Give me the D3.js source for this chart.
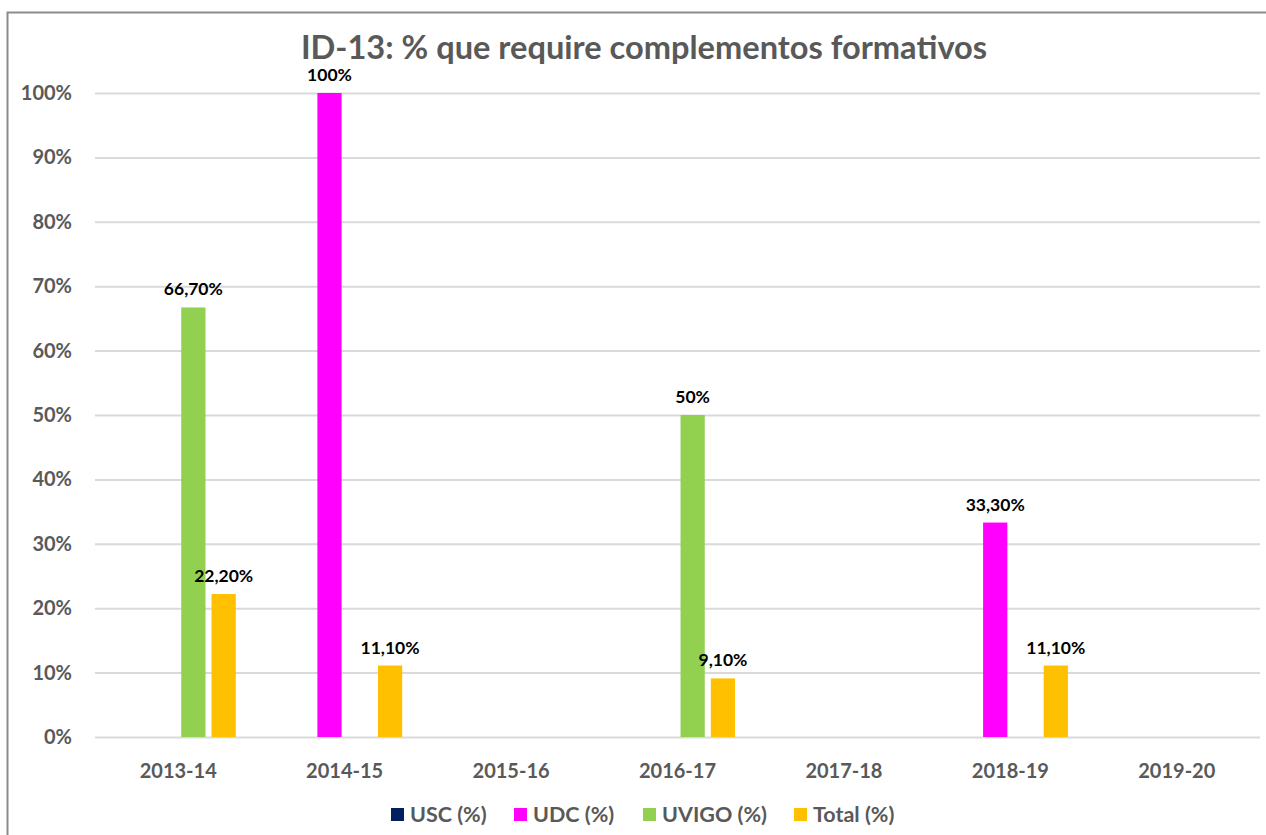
<!DOCTYPE html>
<html>
<head>
<meta charset="utf-8">
<script src="https://cdn.jsdelivr.net/npm/d3@7"></script>
<style>
  body { margin: 0; background: #fff; }
  svg { display: block; font-family: Lato, "Open Sans", sans-serif; }
</style>
</head>
<body>
<div id="chart"></div>
<script>
const years = ['2013-14', '2014-15', '2015-16', '2016-17', '2017-18', '2018-19', '2019-20'];
const seriesNames = ['USC (%)', 'UDC (%)', 'UVIGO (%)', 'Total (%)'];
const seriesColors = ['#002060', '#FF00FF', '#92D050', '#FFC000'];
const usc = [null, null, null, null, null, null, null];
const udc = [null, 100, null, null, null, 33.3, null];
const uvigo = [66.7, null, null, 50, null, null, null];
const total = [22.2, 11.1, null, 9.1, null, 11.1, null];
const labelsUdc = [null, '100%', null, null, null, '33,30%', null];
const labelsUvigo = ['66,70%', null, null, '50%', null, null, null];
const labelsTotal = ['22,20%', '11,10%', null, '9,10%', null, '11,10%', null];
const yTicks = [0, 10, 20, 30, 40, 50, 60, 70, 80, 90, 100];

const seriesValues = [usc, udc, uvigo, total];
const seriesLabels = [[], labelsUdc, labelsUvigo, labelsTotal];

const W = 1266, H = 835;
const svg = d3.select('#chart').append('svg')
  .attr('width', W)
  .attr('height', H);

// chart frame
svg.append('rect')
  .attr('x', 7.5).attr('y', 12.5)
  .attr('width', W + 20).attr('height', H + 20)
  .attr('fill', '#fff')
  .attr('stroke', '#8c8c8c')
  .attr('stroke-width', 2);

const x0 = d3.scaleBand()
  .domain(years)
  .range([95, 1260])
  .paddingInner(0.272)
  .paddingOuter(0.136);

const x1 = d3.scaleBand()
  .domain(d3.range(seriesNames.length))
  .range([0, x0.bandwidth()])
  .paddingInner(0.2)
  .paddingOuter(0.1);

const y = d3.scaleLinear()
  .domain([0, 100])
  .range([737, 93]);

// gridlines + y labels
const yAxis = svg.append('g')
  .attr('transform', 'translate(95,0)')
  .call(d3.axisLeft(y).tickValues(yTicks).tickSize(-(1260 - 95)).tickFormat(d => d + '%'));
yAxis.select('.domain').remove();
yAxis.selectAll('.tick line').attr('stroke', '#d9d9d9').attr('stroke-width', 2);
yAxis.selectAll('.tick text')
  .attr('x', -23)
  .attr('fill', '#595959')
  .attr('font-size', 20)
  .attr('font-weight', 'bold')
  .attr('font-family', 'Lato, sans-serif');

// x labels
const xAxis = svg.append('g')
  .attr('transform', 'translate(0,737)')
  .call(d3.axisBottom(x0).tickSize(0));
xAxis.select('.domain').remove();
xAxis.selectAll('.tick text')
  .attr('dy', 0)
  .attr('y', 41)
  .attr('fill', '#595959')
  .attr('font-size', 20)
  .attr('font-weight', 'bold')
  .attr('font-family', 'Lato, sans-serif');

// bars
seriesValues.forEach((vals, s) => {
  const g = svg.append('g');
  years.forEach((yr, i) => {
    const v = vals[i];
    if (v == null) return;
    const bx = x0(yr) + x1(s);
    g.append('rect')
      .attr('x', bx)
      .attr('y', y(v))
      .attr('width', x1.bandwidth())
      .attr('height', y(0) - y(v))
      .attr('fill', seriesColors[s]);
    const lab = seriesLabels[s][i];
    if (lab) {
      g.append('text')
        .attr('x', bx + x1.bandwidth() / 2)
        .attr('y', y(v) - 12)
        .attr('text-anchor', 'middle')
        .attr('font-size', 17.5)
        .attr('font-weight', 'bold')
        .attr('fill', '#000')
        .text(lab);
    }
  });
});

// title
svg.append('text')
  .attr('x', 644)
  .attr('y', 59)
  .attr('text-anchor', 'middle')
  .attr('font-size', 32.6)
  .attr('font-weight', 'bold')
  .attr('fill', '#595959')
  .text('ID-13: % que require complementos formativos');

// legend
const legendX = [391, 514, 643, 794];
const legend = svg.append('g');
seriesNames.forEach((name, s) => {
  legend.append('rect')
    .attr('x', legendX[s])
    .attr('y', 808)
    .attr('width', 13)
    .attr('height', 13)
    .attr('fill', seriesColors[s]);
  legend.append('text')
    .attr('x', legendX[s] + 19)
    .attr('y', 822)
    .attr('font-size', 21.5)
    .attr('font-weight', 'bold')
    .attr('fill', '#595959')
    .text(name);
});
</script>
</body>
</html>
